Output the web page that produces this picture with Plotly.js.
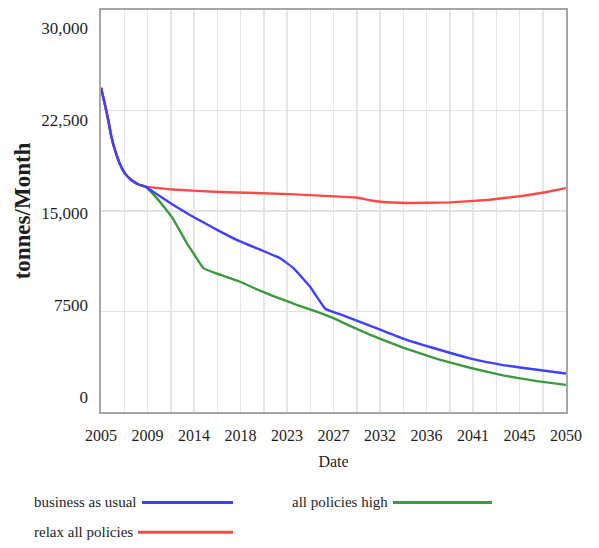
<!DOCTYPE html>
<html>
<head>
<meta charset="utf-8">
<script src="https://cdn.plot.ly/plotly-3.0.1.min.js"></script>
<style>
  html, body { margin: 0; padding: 0; background: #fff; }
  #chart { width: 599px; height: 548px; }
</style>
</head>
<body>
<div id="chart"></div>
<script>
// ---- data ----
const seriesNames = ['business as usual', 'relax all policies', 'all policies high'];
const seriesColors = ['#3f3fff', '#ff4848', '#3d993d'];

// shared history (all scenarios identical until ~2009)
const historyYears  = [2005, 2005.35, 2005.7, 2006.0, 2006.35, 2006.8, 2007.3, 2007.9, 2008.7, 2009.3];
const historyValues = [24200, 23050, 21800, 20560, 19560, 18570, 17830, 17330, 16960, 16820];

const bauYears  = [2010.6, 2012.0, 2013.6, 2015.2, 2016.5, 2018.45, 2020.4, 2022.3, 2023.6, 2025.2, 2026.7, 2028.1, 2031.0, 2034.3, 2037.5, 2040.7, 2043.9, 2047.2, 2050];
const bauValues = [16150, 15450, 14700, 14030, 13480, 12730, 12110, 11490, 10750, 9380, 7710, 7300, 6450, 5460, 4700, 4000, 3500, 3150, 2870];

const relaxYears  = [2010.9, 2012.0, 2016.5, 2023.3, 2028.1, 2029.75, 2031.0, 2032.3, 2034.6, 2038.8, 2042.6, 2045.9, 2048.0, 2050];
const relaxValues = [16690, 16600, 16420, 16260, 16070, 16010, 15800, 15670, 15600, 15640, 15840, 16140, 16400, 16710];

const highYears  = [2010.4, 2011.2, 2012.0, 2012.65, 2013.3, 2014.1, 2014.9, 2016.5, 2018.45, 2020.4, 2022.0, 2024.0, 2026.0, 2027.5, 2029.75, 2031.0, 2034.3, 2037.5, 2040.7, 2043.9, 2047.2, 2050];
const highValues = [15960, 15200, 14380, 13500, 12610, 11660, 10740, 10250, 9720, 9050, 8560, 7980, 7450, 7000, 6200, 5780, 4790, 3970, 3300, 2730, 2300, 2020];

const xTickVals = [2005, 2009.5, 2014, 2018.5, 2023, 2027.5, 2032, 2036.5, 2041, 2045.5, 2050];
const xTickText = ['2005', '2009', '2014', '2018', '2023', '2027', '2032', '2036', '2041', '2045', '2050'];
const yTickVals = [0, 7500, 15000, 22500, 30000];
const yTickText = ['0', '7500', '15,000', '22,500', '30,000'];

// ---- layout helpers ----
const W = 599, H = 548;
const M = { l: 101, r: 33, t: 10, b: 135.5 };
const plotW = W - M.l - M.r, plotH = H - M.t - M.b;
const px = x => (x - M.l) / plotW;
const py = y => (H - M.b - y) / plotH;

const FONT = 'Liberation Serif';
const TEXT = '#1e1e1e';

const traces = [
  { x: historyYears.concat(highYears), y: historyValues.concat(highValues), color: seriesColors[2], name: seriesNames[2] },
  { x: historyYears.concat(relaxYears), y: historyValues.concat(relaxValues), color: seriesColors[1], name: seriesNames[1] },
  { x: historyYears.concat(bauYears), y: historyValues.concat(bauValues), color: seriesColors[0], name: seriesNames[0] }
].map(s => ({
  type: 'scatter', mode: 'lines', x: s.x, y: s.y, name: s.name,
  line: { color: s.color, width: 2.4, shape: 'spline', smoothing: 0.3 },
  showlegend: false, hoverinfo: 'skip'
}));

// legend drawn manually (text left of line as in reference)
const legendItems = [
  { name: seriesNames[0], color: seriesColors[0], tx: 32, y: 503, x0: 142, x1: 233 },
  { name: seriesNames[1], color: seriesColors[1], tx: 32, y: 533, x0: 138, x1: 233 },
  { name: seriesNames[2], color: seriesColors[2], tx: 290, y: 503, x0: 393, x1: 492 }
];

const annotations = legendItems.map(it => ({
  xref: 'paper', yref: 'paper', x: px(it.tx), y: py(it.y),
  xanchor: 'left', yanchor: 'middle', showarrow: false,
  text: it.name, font: { family: FONT, size: 15, color: TEXT }
}));
const shapes = legendItems.map(it => ({
  type: 'line', xref: 'paper', yref: 'paper',
  x0: px(it.x0), x1: px(it.x1), y0: py(it.y), y1: py(it.y),
  line: { color: it.color, width: 3 }
}));

// y labels in the reference sit on an evenly spaced scale slightly inset from the gridlines
const labelBottomPx = 398, labelTopPx = 28;
const perPx = 30000 / (labelBottomPx - labelTopPx);
const y2Range = [-(H - M.b - labelBottomPx) * perPx, (labelBottomPx - M.t) * perPx];

const layout = {
  width: W, height: H,
  margin: M,
  paper_bgcolor: '#fff', plot_bgcolor: '#fff',
  font: { family: FONT, color: TEXT, size: 16 },
  showlegend: false,
  xaxis: {
    range: [2005, 2050],
    tickmode: 'array', tickvals: xTickVals, ticktext: xTickText,
    showgrid: true, gridcolor: '#e6e6e6', gridwidth: 1.5,
    minor: { tickmode: 'linear', tick0: 2005, dtick: 2.25, showgrid: true, gridcolor: '#e6e6e6', gridwidth: 1.5 },
    zeroline: false,
    showline: true, linecolor: '#a6a6a6', linewidth: 2, mirror: true,
    ticks: '', ticklabelstandoff: 8,
    tickfont: { family: FONT, size: 16, color: TEXT },
    title: { text: 'Date', font: { family: FONT, size: 16, color: TEXT }, standoff: 13 }
  },
  yaxis: {
    range: [0, 30000],
    tickmode: 'array', tickvals: yTickVals, showticklabels: false,
    showgrid: true, gridcolor: '#e2e2e2', gridwidth: 1.5,
    zeroline: false,
    showline: true, linecolor: '#a6a6a6', linewidth: 2, mirror: true,
    ticks: ''
  },
  yaxis2: {
    overlaying: 'y', side: 'left', range: y2Range,
    tickmode: 'array', tickvals: yTickVals, ticktext: yTickText,
    showgrid: false, zeroline: false, showline: false, ticks: '',
    ticklabelstandoff: 12,
    tickfont: { family: FONT, size: 17, color: TEXT },
    title: { text: '<b>tonnes/Month</b>', font: { family: FONT, size: 23, color: TEXT }, standoff: 4 }
  },
  annotations: annotations,
  shapes: shapes
};

// invisible trace that activates yaxis2 (the label scale)
traces.unshift({ type: 'scatter', mode: 'lines', x: [2005], y: [0], yaxis: 'y2', showlegend: false, hoverinfo: 'skip', line: { width: 0 } });

Plotly.newPlot('chart', traces, layout, { displayModeBar: false, staticPlot: true });
</script>
</body>
</html>
